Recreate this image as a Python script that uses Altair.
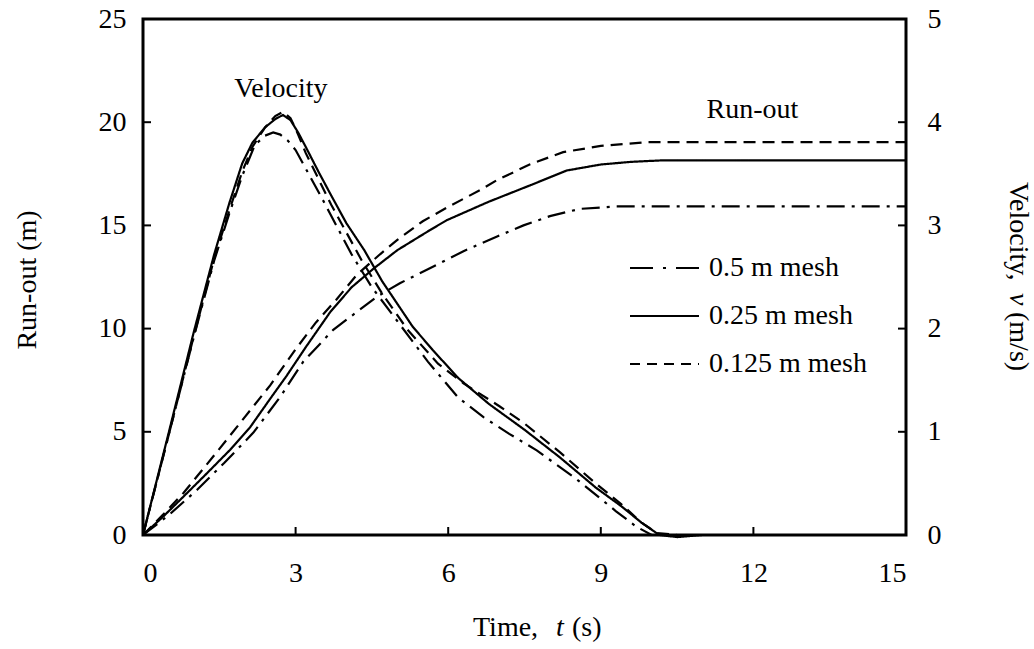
import altair as alt
import pandas as pd

FONT = "Liberation Serif"
FS = 28

series_names = ["0.5 m mesh", "0.25 m mesh", "0.125 m mesh"]
series_dash = [[18, 7, 3, 7], [1, 0], [12, 7]]
legend_dash = [[23, 10, 3, 10], [1, 0], [10, 7]]

# ---- Velocity (m/s) ----
t_vel_05 = [0, 0.5, 1.0, 1.4, 1.7, 1.95, 2.2, 2.4, 2.56, 2.7, 2.85, 3.0, 3.2, 3.5, 3.8, 4.1, 4.5, 5.08, 5.6, 6.2, 6.7, 7.2, 7.74, 8.5, 9.3, 9.7, 10.0, 10.5, 11, 12, 13, 14, 15]
v_05 = [0, 0.96, 1.92, 2.66, 3.12, 3.48, 3.78, 3.87, 3.90, 3.88, 3.82, 3.73, 3.55, 3.28, 3.00, 2.72, 2.40, 2.02, 1.68, 1.33, 1.14, 0.98, 0.82, 0.55, 0.23, 0.08, 0.0, 0, 0, 0, 0, 0, 0]

t_vel_025 = [0, 0.5, 1.0, 1.4, 1.7, 1.95, 2.15, 2.4, 2.6, 2.75, 2.9, 3.05, 3.2, 3.45, 3.7, 4.0, 4.35, 4.7, 5.3, 5.7, 6.2, 6.8, 7.5, 8.2, 8.9, 9.4, 9.8, 10.15, 10.5, 11.0, 12, 13, 14, 15]
v_025 = [0, 0.98, 1.97, 2.72, 3.22, 3.60, 3.80, 3.95, 4.03, 4.07, 4.02, 3.90, 3.76, 3.52, 3.29, 3.02, 2.76, 2.46, 2.02, 1.79, 1.52, 1.27, 1.02, 0.75, 0.46, 0.28, 0.12, 0.0, -0.02, 0.0, 0, 0, 0, 0]

t_vel_0125 = [0, 0.5, 1.0, 1.4, 1.7, 1.95, 2.15, 2.4, 2.6, 2.75, 2.9, 3.05, 3.2, 3.45, 3.7, 4.0, 4.3, 4.7, 5.2, 5.8, 6.3, 7.0, 7.5, 8.2, 8.9, 9.4, 9.8, 10.1, 10.5, 11, 12, 13, 14, 15]
v_0125 = [0, 0.96, 1.93, 2.68, 3.15, 3.52, 3.76, 3.95, 4.06, 4.10, 4.04, 3.88, 3.70, 3.45, 3.20, 2.93, 2.66, 2.34, 1.99, 1.66, 1.47, 1.25, 1.08, 0.80, 0.50, 0.30, 0.12, 0.02, 0, 0, 0, 0, 0, 0]

# ---- Run-out (m) ----
t_run_05 = [0, 0.5, 1.06, 1.6, 2.17, 2.7, 3.15, 3.74, 4.2, 4.6, 5.05, 5.64, 6.3, 6.95, 7.48, 8.0, 8.59, 9.3, 10, 11, 12, 13, 14, 15]
r_05 = [0, 0.95, 2.18, 3.5, 4.96, 6.7, 8.4, 9.94, 10.8, 11.55, 12.2, 12.92, 13.75, 14.45, 15.0, 15.45, 15.8, 15.92, 15.92, 15.92, 15.92, 15.92, 15.92, 15.92]

t_run_025 = [0, 0.4, 0.73, 1.2, 1.71, 2.1, 2.5, 2.82, 3.2, 3.68, 4.1, 4.53, 5.0, 5.64, 5.97, 6.8, 7.61, 8.33, 9.0, 9.6, 10.2, 11, 12, 13, 14, 15]
r_025 = [0, 0.9, 1.7, 2.85, 4.12, 5.2, 6.6, 7.7, 9.1, 10.8, 12.0, 12.9, 13.8, 14.77, 15.25, 16.15, 16.94, 17.66, 17.95, 18.08, 18.15, 18.15, 18.15, 18.15, 18.15, 18.15]

t_run_0125 = [0, 0.4, 0.8, 1.38, 1.9, 2.5, 3.0, 3.4, 3.8, 4.2, 4.66, 5.0, 5.5, 6.0, 6.62, 6.95, 7.6, 8.26, 9.0, 9.9, 11, 12, 13, 14, 15]
r_0125 = [0, 1.0, 2.05, 3.8, 5.4, 7.25, 9.0, 10.3, 11.4, 12.6, 13.6, 14.3, 15.2, 15.9, 16.7, 17.18, 17.95, 18.55, 18.85, 19.03, 19.03, 19.03, 19.03, 19.03, 19.03]

x_ticks = [0, 3, 6, 9, 12, 15]
run_ticks = [0, 5, 10, 15, 20, 25]
vel_ticks = [0, 1, 2, 3, 4, 5]

annot_text = ["Velocity", "Run-out"]
annot_t = [2.71, 11.98]
annot_r = [21.2, 20.2]

W, H = 763, 516
PAD_L, PAD_T = 143, 19


def long_df(ts, vs, names):
    rows = []
    for tt, vv, nm in zip(ts, vs, names):
        for a, b in zip(tt, vv):
            rows.append({"t": a, "value": b, "series": nm})
    return pd.DataFrame(rows)


df_run = long_df([t_run_05, t_run_025, t_run_0125], [r_05, r_025, r_0125], series_names)
df_vel = long_df([t_vel_05, t_vel_025, t_vel_0125], [v_05, v_025, v_0125], series_names)

xscale = alt.Scale(domain=[0, 15], nice=False, zero=False)
run_scale = alt.Scale(domain=[0, 25], nice=False)
vel_scale = alt.Scale(domain=[0, 5], nice=False)

x_axis = alt.Axis(values=x_ticks, ticks=False, domain=False, grid=False, title=None,
                  labelFont=FONT, labelFontSize=FS, labelColor="black", labelPadding=24)

dash_scale = alt.Scale(domain=series_names, range=series_dash)

run_lines = alt.Chart(df_run).mark_line(color="black", strokeWidth=2.2).encode(
    x=alt.X("t:Q", scale=xscale, axis=x_axis),
    y=alt.Y("value:Q", scale=run_scale,
            axis=alt.Axis(orient="left", values=run_ticks, ticks=False, domain=False, grid=False,
                          title=None, labelFont=FONT, labelFontSize=FS, labelColor="black",
                          labelPadding=17)),
    strokeDash=alt.StrokeDash("series:N", scale=dash_scale, legend=None),
    detail="series:N",
)

vel_lines = alt.Chart(df_vel).mark_line(color="black", strokeWidth=2.2).encode(
    x=alt.X("t:Q", scale=xscale, axis=x_axis),
    y=alt.Y("value:Q", scale=vel_scale,
            axis=alt.Axis(orient="right", values=vel_ticks, ticks=False, domain=False, grid=False,
                          title=None, labelFont=FONT, labelFontSize=FS, labelColor="black",
                          labelPadding=21)),
    strokeDash=alt.StrokeDash("series:N", scale=dash_scale, legend=None),
    detail="series:N",
)

# inward tick marks
xt = alt.Chart(pd.DataFrame({"t": x_ticks})).mark_rule(color="black", strokeWidth=2).encode(
    x=alt.X("t:Q", scale=xscale, axis=x_axis), y=alt.value(H), y2=alt.value(H - 8))
lt = alt.Chart(pd.DataFrame({"r": run_ticks})).mark_rule(color="black", strokeWidth=2).encode(
    y=alt.Y("r:Q", scale=run_scale, axis=None), x=alt.value(0), x2=alt.value(8))
rt = alt.Chart(pd.DataFrame({"v": vel_ticks})).mark_rule(color="black", strokeWidth=2).encode(
    y=alt.Y("v:Q", scale=vel_scale, axis=None), x=alt.value(W), x2=alt.value(W - 8))

# annotations
ann = alt.Chart(pd.DataFrame({"t": annot_t, "r": annot_r, "label": annot_text})).mark_text(
    font=FONT, fontSize=FS, color="black", align="center", baseline="alphabetic").encode(
    x=alt.X("t:Q", scale=xscale, axis=x_axis),
    y=alt.Y("r:Q", scale=run_scale, axis=None),
    text="label:N")


def txt(s, x, y, **kw):
    return alt.Chart(pd.DataFrame({"s": [s]})).mark_text(
        font=FONT, fontSize=FS, color="black", **kw).encode(
        x=alt.value(x), y=alt.value(y), text="s:N")


RX = 1018 - PAD_L
RY0 = 182 - PAD_T
titles = [
    txt("Time,", 473 - PAD_L, 636 - PAD_T, align="left", baseline="alphabetic"),
    txt("t", 556 - PAD_L, 636 - PAD_T, align="left", baseline="alphabetic", fontStyle="italic"),
    txt("(s)", 572 - PAD_L, 636 - PAD_T, align="left", baseline="alphabetic"),
    txt("Run-out (m)", 28 - PAD_L, 280 - PAD_T, align="center", baseline="middle", angle=270),
    txt("Velocity,", RX, RY0, align="left", baseline="middle", angle=90),
    txt("v", RX, RY0 + 111, align="left", baseline="middle", angle=90, fontStyle="italic"),
    txt("(m/s)", RX, RY0 + 130, align="left", baseline="middle", angle=90),
]

# legend
legend_layers = []
for i, (nm, dsh) in enumerate(zip(series_names, legend_dash)):
    yy = 268 - PAD_T + 48 * i
    legend_layers.append(
        alt.Chart(pd.DataFrame({"s": [nm]})).mark_rule(color="black", strokeWidth=2.2, strokeDash=dsh).encode(
            x=alt.value(630 - PAD_L), x2=alt.value(699 - PAD_L), y=alt.value(yy)))
    legend_layers.append(txt(nm, 709 - PAD_L, yy, align="left", baseline="middle"))

chart = alt.layer(run_lines, vel_lines, xt, lt, rt, ann, *titles, *legend_layers).resolve_scale(
    y="independent"
).properties(
    width=W, height=H,
    autosize=alt.AutoSizeParams(type="none"),
    padding={"left": PAD_L, "top": PAD_T, "right": 1034 - PAD_L - W, "bottom": 649 - PAD_T - H},
    background="white",
).configure_view(stroke="black", strokeWidth=3)

chart.save("out.html", embed_options={"renderer": "svg", "actions": False})
